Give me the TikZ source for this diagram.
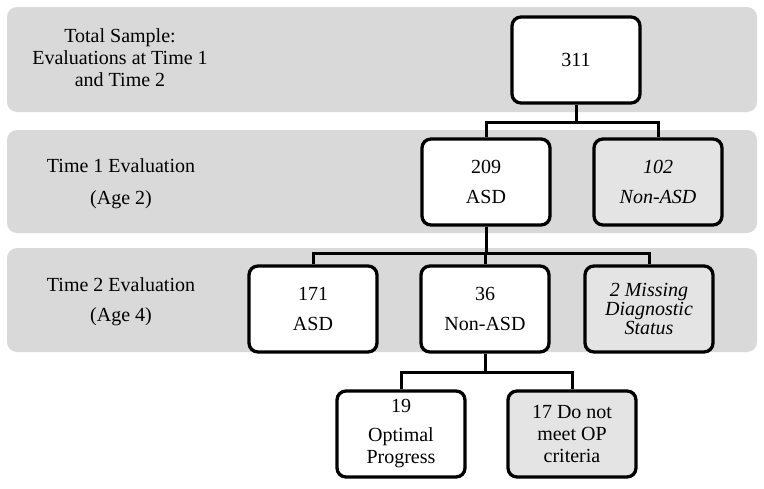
\documentclass[tikz,border=0pt]{standalone}
\usepackage{fontspec}
\setmainfont{Liberation Serif}
\definecolor{bandgray}{RGB}{217,217,217}
\definecolor{boxgray}{RGB}{228,228,228}
\begin{document}
\begin{tikzpicture}[x=1pt,y=-1pt,
  band/.style={fill=bandgray,rounded corners=10pt},
  box/.style={draw=black,line width=3.3pt,rounded corners=9pt,fill=white,
    minimum width=128pt,minimum height=86pt,align=center,inner sep=2pt,
    font=\fontsize{20}{30}\selectfont},
  graybox/.style={box,fill=boxgray},
  lab/.style={align=center,font=\fontsize{20}{22}\selectfont},
  conn/.style={draw=black,line width=3pt}]
\useasboundingbox (0,0) rectangle (764,488);
\fill[white] (0,0) rectangle (764,488);
% bands
\path[band] (7,7) rectangle (757,112);
\path[band] (7,130) rectangle (757,233);
\path[band] (7,248) rectangle (757,352);
% band labels
\node[lab] (l1) at (120,58) {Total Sample:\\Evaluations at Time 1\\and Time 2};
\node[lab,font=\fontsize{20}{32}\selectfont] (l2) at (121,184) {Time 1 Evaluation\\(Age 2)};
\node[lab,font=\fontsize{20}{30}\selectfont] (l3) at (121,302) {Time 2 Evaluation\\(Age 4)};
% boxes
\node[box] (n311) at (576,60) {311};
\node[box] (n209) at (486,182) {209\\ASD};
\node[graybox,font=\itshape\fontsize{20}{30}\selectfont] (n102) at (658,182) {102\\Non-ASD};
\node[box] (n171) at (313,309) {171\\ASD};
\node[box] (n36) at (485,309) {36\\Non-ASD};
\node[graybox,font=\itshape\fontsize{20}{19}\selectfont] (nmiss) at (649,309) {2 Missing\\Diagnostic\\Status};
\node[box,font=\fontsize{20}{22}\selectfont] (n19) at (401,434) {19\\[7pt]Optimal\\Progress};
\node[graybox,font=\fontsize{20}{22}\selectfont] (n17) at (572,434) {17 Do not\\meet OP\\criteria};
% junctions
\coordinate (j1) at (576,122);
\coordinate (j2) at (486,253);
\coordinate (j3) at (485,372);
% connectors
\draw[conn] (n311.south) -- (j1);
\draw[conn] (j1) -| (n209.north);
\draw[conn] (j1) -| (n102.north);
\draw[conn] (n209.south) |- (j2);
\draw[conn] (j2) -| (n171.north);
\draw[conn] (j2) -| (n36.north);
\draw[conn] (j2) -| (nmiss.north);
\draw[conn] (n36.south) |- (j3);
\draw[conn] (j3) -| (n19.north);
\draw[conn] (j3) -| (n17.north);
\end{tikzpicture}
\end{document}
